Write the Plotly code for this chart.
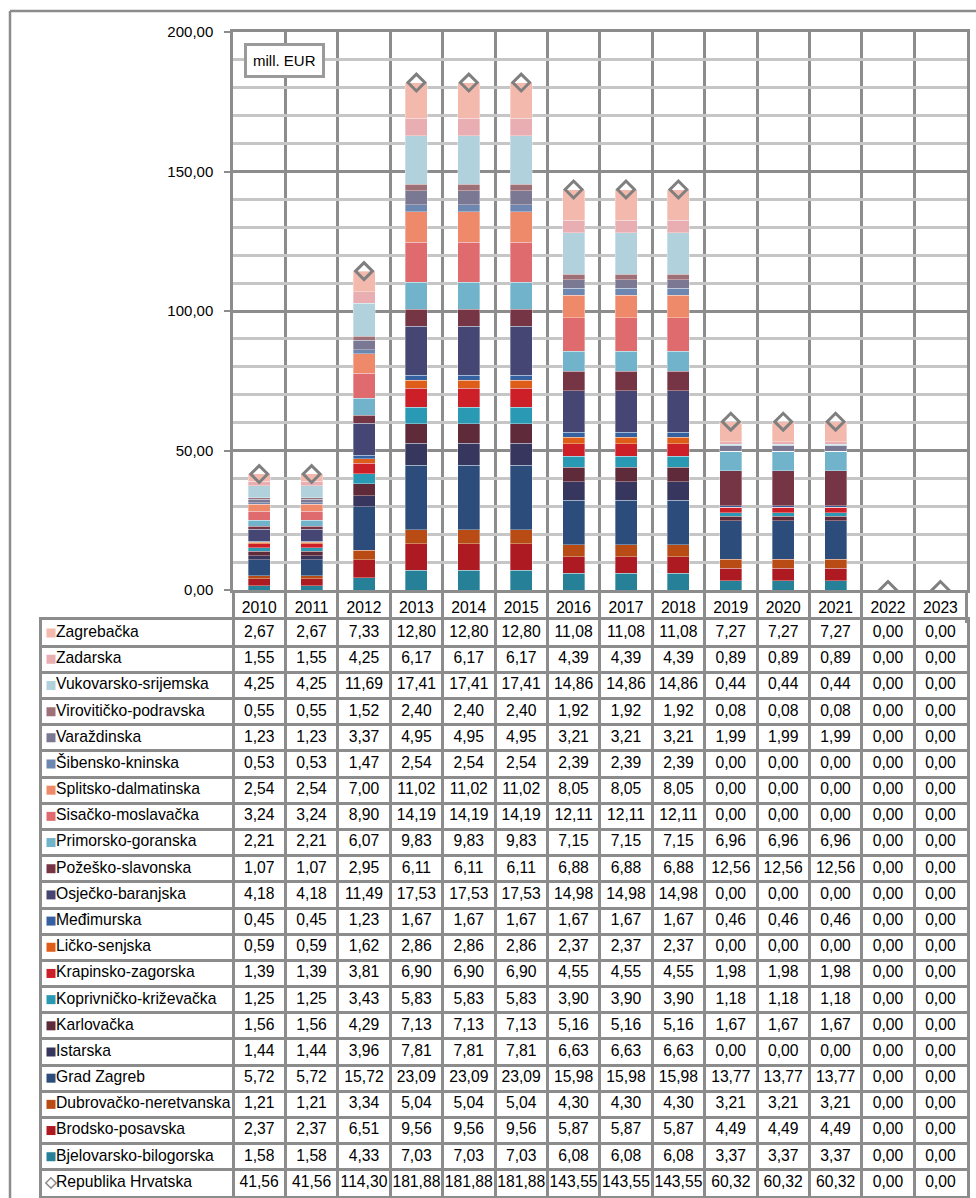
import plotly.graph_objects as go

years = ["2010", "2011", "2012", "2013", "2014", "2015", "2016", "2017", "2018",
         "2019", "2020", "2021", "2022", "2023"]

# regions in table order (top of table = top of stack)
regions = ["Zagrebačka", "Zadarska", "Vukovarsko-srijemska", "Virovitičko-podravska",
           "Varaždinska", "Šibensko-kninska", "Splitsko-dalmatinska", "Sisačko-moslavačka",
           "Primorsko-goranska", "Požeško-slavonska", "Osječko-baranjska", "Međimurska",
           "Ličko-senjska", "Krapinsko-zagorska", "Koprivničko-križevačka", "Karlovačka",
           "Istarska", "Grad Zagreb", "Dubrovačko-neretvanska", "Brodsko-posavska",
           "Bjelovarsko-bilogorska"]

zagrebacka = [2.67, 2.67, 7.33, 12.80, 12.80, 12.80, 11.08, 11.08, 11.08, 7.27, 7.27, 7.27, 0, 0]
zadarska = [1.55, 1.55, 4.25, 6.17, 6.17, 6.17, 4.39, 4.39, 4.39, 0.89, 0.89, 0.89, 0, 0]
vukovarsko = [4.25, 4.25, 11.69, 17.41, 17.41, 17.41, 14.86, 14.86, 14.86, 0.44, 0.44, 0.44, 0, 0]
viroviticko = [0.55, 0.55, 1.52, 2.40, 2.40, 2.40, 1.92, 1.92, 1.92, 0.08, 0.08, 0.08, 0, 0]
varazdinska = [1.23, 1.23, 3.37, 4.95, 4.95, 4.95, 3.21, 3.21, 3.21, 1.99, 1.99, 1.99, 0, 0]
sibensko = [0.53, 0.53, 1.47, 2.54, 2.54, 2.54, 2.39, 2.39, 2.39, 0, 0, 0, 0, 0]
splitsko = [2.54, 2.54, 7.00, 11.02, 11.02, 11.02, 8.05, 8.05, 8.05, 0, 0, 0, 0, 0]
sisacko = [3.24, 3.24, 8.90, 14.19, 14.19, 14.19, 12.11, 12.11, 12.11, 0, 0, 0, 0, 0]
primorsko = [2.21, 2.21, 6.07, 9.83, 9.83, 9.83, 7.15, 7.15, 7.15, 6.96, 6.96, 6.96, 0, 0]
pozesko = [1.07, 1.07, 2.95, 6.11, 6.11, 6.11, 6.88, 6.88, 6.88, 12.56, 12.56, 12.56, 0, 0]
osjecko = [4.18, 4.18, 11.49, 17.53, 17.53, 17.53, 14.98, 14.98, 14.98, 0, 0, 0, 0, 0]
medimurska = [0.45, 0.45, 1.23, 1.67, 1.67, 1.67, 1.67, 1.67, 1.67, 0.46, 0.46, 0.46, 0, 0]
licko = [0.59, 0.59, 1.62, 2.86, 2.86, 2.86, 2.37, 2.37, 2.37, 0, 0, 0, 0, 0]
krapinsko = [1.39, 1.39, 3.81, 6.90, 6.90, 6.90, 4.55, 4.55, 4.55, 1.98, 1.98, 1.98, 0, 0]
koprivnicko = [1.25, 1.25, 3.43, 5.83, 5.83, 5.83, 3.90, 3.90, 3.90, 1.18, 1.18, 1.18, 0, 0]
karlovacka = [1.56, 1.56, 4.29, 7.13, 7.13, 7.13, 5.16, 5.16, 5.16, 1.67, 1.67, 1.67, 0, 0]
istarska = [1.44, 1.44, 3.96, 7.81, 7.81, 7.81, 6.63, 6.63, 6.63, 0, 0, 0, 0, 0]
grad_zagreb = [5.72, 5.72, 15.72, 23.09, 23.09, 23.09, 15.98, 15.98, 15.98, 13.77, 13.77, 13.77, 0, 0]
dubrovacko = [1.21, 1.21, 3.34, 5.04, 5.04, 5.04, 4.30, 4.30, 4.30, 3.21, 3.21, 3.21, 0, 0]
brodsko = [2.37, 2.37, 6.51, 9.56, 9.56, 9.56, 5.87, 5.87, 5.87, 4.49, 4.49, 4.49, 0, 0]
bjelovarsko = [1.58, 1.58, 4.33, 7.03, 7.03, 7.03, 6.08, 6.08, 6.08, 3.37, 3.37, 3.37, 0, 0]

total_name = "Republika Hrvatska"
total = [41.56, 41.56, 114.30, 181.88, 181.88, 181.88, 143.55, 143.55, 143.55, 60.32, 60.32, 60.32, 0, 0]

series = [zagrebacka, zadarska, vukovarsko, viroviticko, varazdinska, sibensko, splitsko,
          sisacko, primorsko, pozesko, osjecko, medimurska, licko, krapinsko, koprivnicko,
          karlovacka, istarska, grad_zagreb, dubrovacko, brodsko, bjelovarsko]

colors = ["#f4b9ad", "#e9aeb1", "#b1d1dd", "#9e7077", "#7b7893", "#6e87b1", "#ee8969",
          "#e06b6f", "#70b3cb", "#753545", "#454673", "#3561a0", "#de5d18", "#cd1f28",
          "#2a99b4", "#5f2a3a", "#37365f", "#2c4c7b", "#b84c14", "#ae1a21", "#268097"]

unit_label = "mill. EUR"

W, H = 976, 1198
PL, PR, PT, PB = 233, 966.6, 32, 590   # plot area in pixels
TL, TT, TB = 42, 620, 1196             # table body edges in pixels
GRID = "#8c8c8c"
FONT = "Liberation Sans, Arial, sans-serif"
FS = 15        # axis tick labels
FT = 15.7      # table text


def px(x):
    return x / W


def py(y):
    return 1 - y / H


ncat = len(years)
colw = (PR - PL) / ncat                 # pixels per category
label_left = -0.5 - (PL - TL) / colw    # left edge of label column in category units

fig = go.Figure()
xs = list(range(ncat))

# ---- stacked bars ----
for name, vals, col in reversed(list(zip(regions, series, colors))):
    fig.add_trace(go.Bar(x=xs, y=vals, name=name, marker=dict(color=col,
                         line=dict(color="rgba(255,255,255,0.55)", width=0.6)),
                         xaxis="x", yaxis="y", hoverinfo="skip"))

fig.add_trace(go.Scatter(x=xs, y=total, mode="markers", name=total_name,
                         marker=dict(symbol="diamond-open", size=13, color="#7f7f7f",
                                     line=dict(width=3, color="#7f7f7f")),
                         xaxis="x", yaxis="y", hoverinfo="skip"))


# ---- data table (drawn on its own axis pair) ----
def fmt(v):
    return f"{v:.2f}".replace(".", ",")


rows = series + [total]
row_names = regions + [total_name]
nrow = len(rows)

cell_x, cell_y, cell_t = [], [], []
for r, vals in enumerate(rows):
    for c, v in enumerate(vals):
        cell_x.append(c)
        cell_y.append(r)
        cell_t.append(fmt(v))

fig.add_trace(go.Scatter(x=cell_x, y=cell_y, text=cell_t, mode="text",
                         textposition="middle center", cliponaxis=False,
                         textfont=dict(family=FONT, size=FT, color="black"),
                         xaxis="x2", yaxis="y2", hoverinfo="skip"))

key_off = 9 / colw      # legend key centre, from label column left edge
text_off = 14 / colw    # label text start
fig.add_trace(go.Scatter(x=[label_left + text_off] * nrow, y=list(range(nrow)), text=row_names,
                         mode="text", textposition="middle right", cliponaxis=False,
                         textfont=dict(family=FONT, size=FT, color="black"),
                         xaxis="x2", yaxis="y2", hoverinfo="skip"))
fig.add_trace(go.Scatter(x=[label_left + key_off] * len(regions), y=list(range(len(regions))),
                         mode="markers", marker=dict(symbol="square", size=9, color=colors),
                         xaxis="x2", yaxis="y2", hoverinfo="skip"))
fig.add_trace(go.Scatter(x=[label_left + key_off], y=[len(regions)],
                         mode="markers", marker=dict(symbol="diamond-open", size=8,
                                                     color="#8c8c8c", line=dict(width=1.5)),
                         xaxis="x2", yaxis="y2", hoverinfo="skip"))

col_bounds = [label_left] + [k - 0.5 for k in range(ncat + 1)]
row_bounds = [k - 0.5 for k in range(nrow + 1)]

fig.update_layout(
    width=W, height=H, autosize=False,
    margin=dict(l=0, r=0, t=0, b=0, pad=0, autoexpand=False),
    paper_bgcolor="white", plot_bgcolor="white",
    barmode="stack", bargap=0.58, showlegend=False,
    separators=", ",
    font=dict(family=FONT, size=FS, color="black"),
    xaxis=dict(domain=[px(PL), px(PR)], range=[-0.5, ncat - 0.5], anchor="y",
               automargin=False,
               tickmode="array", tickvals=xs, ticktext=years, ticks="",
               ticklabelstandoff=1,
               tickfont=dict(family=FONT, size=FT, color="black"),
               showgrid=False, zeroline=False,
               minor=dict(tick0=-0.5, dtick=1, ticks="outside", ticklen=TT - PB,
                          tickwidth=2.5, tickcolor=GRID, showgrid=True,
                          gridcolor=GRID, gridwidth=2.5),
               showline=True, mirror=True, linecolor=GRID, linewidth=2.5),
    yaxis=dict(domain=[py(PB), py(PT)], range=[0, 200], anchor="x",
               automargin=False,
               tickmode="linear", tick0=0, dtick=50,
               tickformat=".2f", showgrid=True, gridcolor=GRID, gridwidth=2.5,
               minor=dict(dtick=10, showgrid=True, gridcolor="#c6c6c6", gridwidth=2.5),
               ticks="outside", ticklen=6, tickwidth=2, tickcolor=GRID,
               ticklabelstandoff=8,
               zeroline=False, showline=True, mirror=True, linecolor=GRID, linewidth=2.5,
               tickfont=dict(family=FONT, size=FS, color="black")),
    xaxis2=dict(domain=[px(TL), px(PR)], range=[label_left, ncat - 0.5], anchor="y2",
                automargin=False,
                tickmode="array", tickvals=col_bounds, showticklabels=False, ticks="",
                showgrid=True, gridcolor=GRID, gridwidth=3, zeroline=False,
                showline=True, mirror=True, linecolor=GRID, linewidth=3),
    yaxis2=dict(domain=[py(TB), py(TT)], range=[nrow - 0.5, -0.5], anchor="x2",
                automargin=False,
                tickmode="array", tickvals=row_bounds, showticklabels=False, ticks="",
                showgrid=True, gridcolor=GRID, gridwidth=3, zeroline=False,
                showline=True, mirror=True, linecolor=GRID, linewidth=3),
    shapes=[
        dict(type="line", xref="paper", yref="paper", x0=px(10), x1=1, y0=py(11), y1=py(11),
             line=dict(color=GRID, width=2.5)),
        dict(type="line", xref="paper", yref="paper", x0=px(10), x1=px(10), y0=py(11), y1=0,
             line=dict(color=GRID, width=2.5)),
    ],
    annotations=[
        dict(text=unit_label, xref="paper", yref="paper", x=px(284.5), y=py(60),
             xanchor="center", yanchor="middle",
             showarrow=False, font=dict(family=FONT, size=FS, color="black"),
             bgcolor="white", bordercolor="#9a9a9a", borderwidth=3, borderpad=6),
    ],
)

fig.write_html("out.html", config={"displayModeBar": False},
               post_script="document.body.style.margin='0px';")
